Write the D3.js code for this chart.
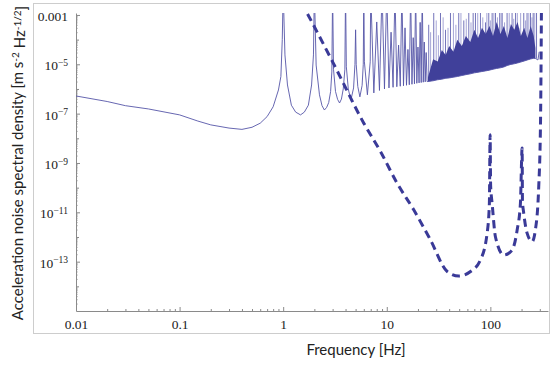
<!DOCTYPE html>
<html>
<head>
<meta charset="utf-8">
<script src="https://cdn.jsdelivr.net/npm/d3@7"></script>
<style>
  body { margin: 0; background: #fff; }
  svg { display: block; }
</style>
</head>
<body>
<div id="chart-container"></div>
<script>
// Solid curve: smooth low-frequency part, troughs and flanks of the resonances
const baseFreq = [0.01, 0.02, 0.03, 0.05, 0.1, 0.15, 0.2, 0.3, 0.4, 0.5, 0.6, 0.7, 0.8, 0.9, 0.95, 0.98,
  1.04, 1.1, 1.2, 1.32, 1.47, 1.6, 1.75, 1.88, 1.96,
  2.08, 2.24, 2.37, 2.5, 2.63, 2.75, 2.87, 2.95,
  3.06, 3.2, 3.35, 3.5, 3.65, 3.8, 3.94,
  4.07, 4.25, 4.5, 4.78, 4.93,
  5.07, 5.25, 5.5, 5.78, 5.93,
  6.08, 6.5, 6.92, 7.5, 8.5, 9.5, 10.5, 11.5, 12.5, 13.5, 14.5, 15.5, 16.5,
  17.5, 18.5, 19.5, 20.5, 21.5, 22.5, 23.5, 24.5,
  280, 288, 296];
const basePsd = [5.2e-7, 3.1e-7, 2.1e-7, 1.55e-7, 8.9e-8, 5.0e-8, 3.5e-8, 2.6e-8, 2.3e-8, 2.8e-8, 4.1e-8, 7.6e-8, 1.9e-7, 9.1e-7, 3.2e-6, 1e-4,
  2.4e-5, 1.45e-6, 2.2e-7, 1.15e-7, 8.9e-8, 1.15e-7, 2.2e-7, 1.45e-6, 2.4e-5,
  9.3e-6, 5.8e-7, 2.1e-7, 1.4e-7, 1.8e-7, 2.8e-7, 7.9e-7, 4.9e-6,
  6.3e-6, 7.9e-7, 3.8e-7, 2.7e-7, 3.9e-7, 1e-6, 6.3e-6,
  7.9e-6, 1e-6, 3.5e-7, 1.1e-6, 1e-5,
  1e-5, 1.26e-6, 4.8e-7, 1.4e-6, 1e-5,
  1.26e-5, 5.8e-7, 1.26e-5, 6.9e-7, 8.7e-7, 1.0e-6, 1.1e-6, 1.17e-6, 1.23e-6, 1.29e-6, 1.35e-6, 1.41e-6, 1.48e-6,
  1.55e-6, 1.62e-6, 1.7e-6, 1.76e-6, 1.82e-6, 1.88e-6, 1.94e-6, 2.0e-6,
  1.6e-5, 1.5e-5, 3.2e-5];

// Resonance peaks of the solid curve
const peakFreq = [1, 2, 3, 4, 5, 6, 7, 8, 9, 10, 11, 12, 13, 14, 15, 16, 17, 18, 19, 20, 21, 22, 23, 24];
const peakPsd = [1e-2, 1e-2, 1e-2, 1e-2, 2.5e-4, 1e-2, 1e-2, 5.2e-4, 1e-2, 1e-2, 2e-4, 1e-2, 6e-5, 1e-2,
  3e-4, 4e-5, 1e-2, 1.2e-4, 1e-2, 5e-5, 5e-4, 1e-2, 8e-5, 3e-5];

// Dense resonance band above ~25 Hz: lower and upper edge
const bandFreq = [25, 28, 31, 34, 37, 40, 44, 48, 53, 58, 64, 70, 76, 83, 90, 98, 106, 115, 125, 135,
  146, 158, 170, 183, 197, 212, 228, 245, 262, 272];
const bandLow = [2.0e-6, 2.15e-6, 2.36e-6, 2.5e-6, 2.7e-6, 2.8e-6, 3.0e-6, 3.2e-6, 3.5e-6, 3.8e-6,
  4.1e-6, 4.5e-6, 4.75e-6, 5.1e-6, 5.4e-6, 5.8e-6, 6.3e-6, 6.8e-6, 7.2e-6, 7.8e-6,
  9.0e-6, 9.9e-6, 1.05e-5, 1.13e-5, 1.24e-5, 1.36e-5, 1.5e-5, 1.65e-5, 1.75e-5, 1.72e-5];
const bandHigh = [3.0e-6, 1.6e-5, 1.3e-5, 3.8e-5, 2.4e-5, 5.5e-5, 3.2e-5, 9.8e-5, 5.5e-5, 1.4e-4,
  8.1e-5, 2.5e-4, 1.17e-4, 3.0e-4, 1.7e-4, 3.6e-4, 1.4e-4, 5.2e-4, 1.7e-4, 3.6e-4,
  1.17e-4, 4.3e-4, 2.5e-4, 5.2e-4, 1.4e-4, 3.0e-4, 1.17e-4, 3.6e-4, 1.4e-4, 4.6e-5];

// Individual spikes sticking out of the dense band (darker ones)
const spikeFreq = [25.4, 28.4, 33, 36.9, 41.2, 49.5, 55.4, 61.9, 68.2, 71.8, 80.2, 89.7, 96.5,
  104, 112, 123, 130, 145, 162, 175, 188, 210, 226, 244, 259, 279];
const spikeTop = [4e-4, 1e-2, 1e-2, 2.5e-4, 1e-2, 1e-2, 6e-4, 1e-2, 1e-2, 1e-2, 1e-2, 5e-4, 1e-2,
  1e-2, 1e-2, 1e-2, 1e-2, 1e-2, 1e-2, 1e-2, 3e-4, 1e-2, 1e-2, 1e-2, 1e-2, 1e-2];

// Fainter spikes between them
const lightSpikeFreq = [26.5, 30, 31.5, 35, 39, 44, 46.5, 52, 58.5, 65, 75.5, 84.5, 92.5, 100, 108,
  117, 127, 137, 152, 168, 182, 196, 218, 235, 252, 268];
const lightSpikeTop = [2e-4, 6e-4, 1.5e-4, 8e-4, 3e-4, 1e-2, 4e-4, 1e-2, 7e-4, 5e-4, 1e-2, 8e-4, 1e-2,
  6e-4, 1e-2, 8e-4, 1e-2, 5e-4, 1e-2, 7e-4, 1e-2, 1e-2, 6e-4, 1e-2, 8e-4, 1e-2];

// Dashed curve
const dashFreq = [1.5, 1.7, 3, 6, 8.7, 12.6, 18.2, 26.4, 38.3, 49.6, 64.3, 80.2, 93, 97.8, 99.4, 100.6,
  104, 112, 134.6, 162, 181.5, 195, 202.6, 204, 210, 226.6, 253, 272, 293, 305, 312];
const dashPsd = [3.2e-3, 1.2e-3, 1.26e-5, 4.1e-8, 2.9e-9, 1.5e-10, 1.26e-11, 7.6e-13, 4e-14, 2.6e-14, 4e-14,
  1.17e-13, 1.4e-12, 2.3e-11, 1.4e-8, 1.2e-10,
  2.3e-11, 1.0e-12, 1.86e-13, 2.95e-13, 1.95e-12, 2.3e-11, 4e-9, 3e-11, 9.1e-12, 1.4e-12, 6.5e-13,
  1.95e-12, 1.1e-10, 5.5e-8, 1e-2];

// Axis ticks and labels
const xTickValues = [0.01, 0.1, 1, 10, 100];
const xTickLabels = ["0.01", "0.1", "1", "10", "100"];
const yTickValues = [1e-3, 1e-5, 1e-7, 1e-9, 1e-11, 1e-13];
const yTickBase = ["0.001", "10", "10", "10", "10", "10"];
const yTickSup = ["", "\u22125", "\u22127", "\u22129", "\u221211", "\u221213"];

// Set dimensions and margins for the chart
const margin = { top: 13, right: 6, bottom: 54, left: 76 };
const width = 554 - margin.left - margin.right;
const height = 365 - margin.top - margin.bottom;

const x = d3.scaleLog().domain([0.01, 360]).range([0, width]);
const y = d3.scaleLog().domain([1e-15, 1.2e-3]).range([height, 0]);

const root = d3.select("#chart-container")
  .append("svg")
  .attr("width", 554)
  .attr("height", 365);

// Outer frame
root.append("rect")
  .attr("x", 33.5).attr("y", 3.5)
  .attr("width", 516).attr("height", 330)
  .attr("fill", "none")
  .attr("stroke", "#cdcdcd");

const svg = root.append("g")
  .attr("transform", `translate(${margin.left},${margin.top})`);

svg.append("clipPath").attr("id", "plot-clip")
  .append("rect")
  .attr("x", 0).attr("y", 0)
  .attr("width", width).attr("height", height);

const axisColor = "#8a8a8a";
const serif = "'Liberation Serif', 'Times New Roman', serif";

// Minor ticks (unlabelled)
const minorX = [];
[0.01, 0.1, 1, 10, 100].forEach(d => { for (let k = 2; k <= 9; k++) if (d * k <= 360) minorX.push(d * k); });
const minorY = [];
const decadeY = [];
for (let e = -15; e <= -4; e++) {
  if ((-e) % 2 === 0) decadeY.push(Math.pow(10, e));
  for (let k = 2; k <= 9; k++) minorY.push(k * Math.pow(10, e));
}

svg.append("g")
  .attr("transform", `translate(0,${height})`)
  .call(d3.axisBottom(x).tickValues(minorX).tickSizeInner(-2).tickSizeOuter(0).tickFormat(""))
  .call(g => g.select(".domain").remove());

svg.append("g")
  .call(d3.axisLeft(y).tickValues(minorY).tickSizeInner(-1.5).tickSizeOuter(0).tickFormat(""))
  .call(g => g.select(".domain").remove());

svg.append("g")
  .call(d3.axisLeft(y).tickValues(decadeY).tickSizeInner(-3).tickSizeOuter(0).tickFormat(""))
  .call(g => g.select(".domain").remove());

// X axis
svg.append("g")
  .attr("class", "x-axis")
  .attr("transform", `translate(0,${height})`)
  .call(d3.axisBottom(x).tickValues(xTickValues).tickSizeInner(-4).tickSizeOuter(0).tickPadding(8)
    .tickFormat((d, i) => xTickLabels[i]));

// Y axis
svg.append("g")
  .attr("class", "y-axis")
  .call(d3.axisLeft(y).tickValues(yTickValues).tickSizeInner(-4).tickSizeOuter(0).tickPadding(8)
    .tickFormat(""));

svg.selectAll(".y-axis .tick text").each(function (d, i) {
  const t = d3.select(this);
  t.append("tspan").text(yTickBase[i]);
  if (yTickSup[i]) {
    t.append("tspan").attr("dy", "-0.45em").attr("font-size", "9.5px").text(yTickSup[i]);
  }
});

svg.selectAll(".domain, .tick line").attr("stroke", axisColor);
svg.selectAll(".tick text")
  .attr("fill", "#222")
  .style("font-family", serif)
  .style("font-size", "13.5px");
svg.selectAll(".y-axis .tick text").attr("dy", "0.4em");

// Plot layer
const plot = svg.append("g").attr("clip-path", "url(#plot-clip)");

const bandScale = d3.scaleLog().domain(bandFreq).range(bandLow);

// Spikes above the dense band
plot.selectAll(".light-spike")
  .data(lightSpikeFreq)
  .enter().append("line")
  .attr("class", "light-spike")
  .attr("x1", d => x(d)).attr("x2", d => x(d))
  .attr("y1", d => y(bandScale(d)))
  .attr("y2", (d, i) => y(lightSpikeTop[i]))
  .attr("stroke", "#a6a6d6")
  .attr("stroke-width", 1);

plot.selectAll(".spike")
  .data(spikeFreq)
  .enter().append("line")
  .attr("class", "spike")
  .attr("x1", d => x(d)).attr("x2", d => x(d))
  .attr("y1", d => y(bandScale(d)))
  .attr("y2", (d, i) => y(spikeTop[i]))
  .attr("stroke", "#7474ba")
  .attr("stroke-width", 1);

// Dense band
const bandData = bandFreq.map((f, i) => ({ f, lo: bandLow[i], hi: bandHigh[i] }));
plot.append("path")
  .datum(bandData)
  .attr("fill", "#40409a")
  .attr("d", d3.area()
    .x(d => x(d.f))
    .y0(d => y(d.lo))
    .y1(d => y(d.hi)));

// Solid curve
const solidData = baseFreq.map((f, i) => ({ f, v: basePsd[i] }))
  .concat(peakFreq.map((f, i) => ({ f, v: peakPsd[i] })))
  .concat(bandFreq.map((f, i) => ({ f, v: bandLow[i] })))
  .sort((a, b) => a.f - b.f);

plot.append("path")
  .datum(solidData)
  .attr("fill", "none")
  .attr("stroke", "#5656a8")
  .attr("stroke-width", 0.9)
  .attr("stroke-linejoin", "round")
  .attr("d", d3.line().x(d => x(d.f)).y(d => y(d.v)));

// Dashed curve
const dashData = dashFreq.map((f, i) => ({ f, v: dashPsd[i] }));
plot.append("path")
  .datum(dashData)
  .attr("fill", "none")
  .attr("stroke", "#3a3a98")
  .attr("stroke-width", 3)
  .attr("stroke-dasharray", "8,5")
  .attr("d", d3.line().curve(d3.curveMonotoneX).x(d => x(d.f)).y(d => y(d.v)));

// Axis titles
root.append("text")
  .attr("transform", "translate(23,163) rotate(-90)")
  .attr("text-anchor", "middle")
  .style("font-family", "Lato, 'Open Sans', sans-serif")
  .style("font-size", "15px")
  .attr("fill", "#222")
  .call(t => {
    t.append("tspan").text("Acceleration noise spectral density [m s");
    t.append("tspan").attr("dy", "-0.4em").style("font-size", "10px").text("-2");
    t.append("tspan").attr("dy", "0.4em").text(" Hz");
    t.append("tspan").attr("dy", "-0.4em").style("font-size", "10px").text("-1/2");
    t.append("tspan").attr("dy", "0.4em").text("]");
  });

root.append("text")
  .attr("x", 356)
  .attr("y", 355)
  .attr("text-anchor", "middle")
  .style("font-family", "Lato, 'Open Sans', sans-serif")
  .style("font-size", "15px")
  .attr("fill", "#222")
  .text("Frequency [Hz]");
</script>
</body>
</html>
